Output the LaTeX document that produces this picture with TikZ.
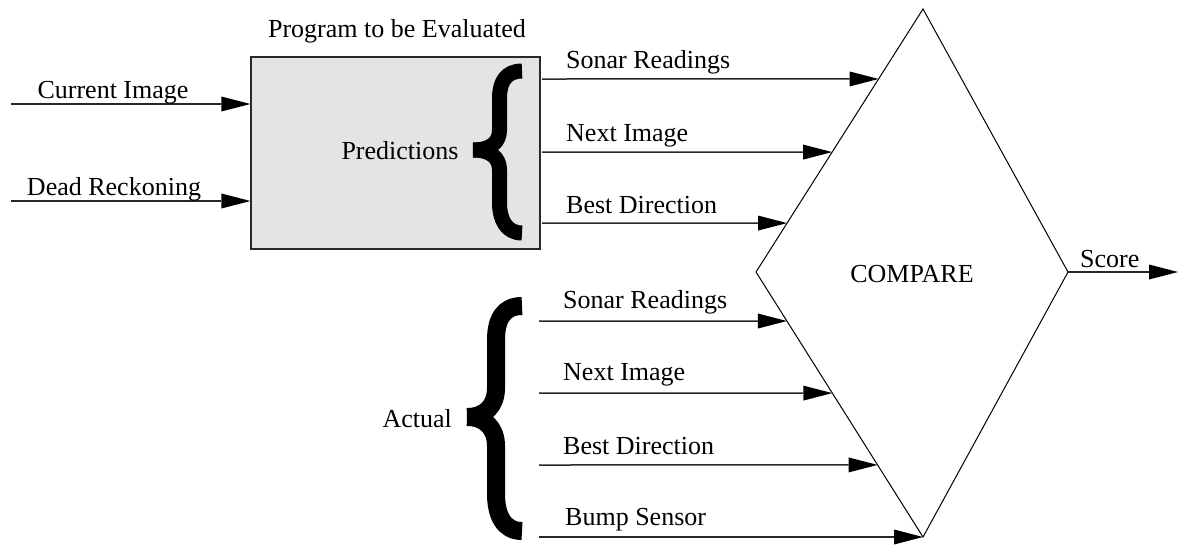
\documentclass[tikz,border=0pt]{standalone}
\usepackage{fontspec}
\setmainfont{Liberation Serif}
\usetikzlibrary{arrows.meta,positioning,calc}
\definecolor{BoxFill}{RGB}{228,228,228}
\definecolor{WireGray}{RGB}{40,40,40}

\begin{document}
\begin{tikzpicture}[
  x=1pt, y=-1pt,
  font=\fontsize{26}{30}\selectfont,
  >={Triangle[length=29pt,width=15pt,fill=black,line width=0pt]},
  wire/.style={->, draw=WireGray, line width=1.5pt},
  sig/.style={anchor=base west, inner sep=0pt},
  txt/.style={anchor=base, inner sep=0pt},
  bracestroke/.style={draw=black, line cap=butt, line join=round},
  progbox/.style={rectangle, draw=WireGray, fill=BoxFill, line width=1.2pt, minimum width=289pt, minimum height=192pt, inner sep=0pt},
]
\useasboundingbox (0,0) rectangle (1178,544);

% program box
\node[progbox] (prog) at (395.5,153) {};
\node[txt] (title) at (397,37) {Program to be Evaluated};
\node[txt] (pred) at (400,159) {Predictions};
% brace of the predictions
\draw[bracestroke, line width=15pt] (522,71) .. controls (506,71) and (499.5,82) .. (499.5,98) -- (499.5,130)
  .. controls (499.5,143) and (490,150) .. (473,150);
\draw[bracestroke, line width=15pt] (473,150) .. controls (490,150) and (499.5,157) .. (499.5,170) -- (499.5,203)
  .. controls (499.5,219) and (506,233) .. (522,233);

% inputs
\coordinate (ci) at (11,104);
\coordinate (dr) at (11,201);
\draw[wire] (ci) -- (ci -| prog.west);
\draw[wire] (dr) -- (dr -| prog.west);
\node[txt] (cilbl) at (113,98) {Current Image};
\node[txt] (drlbl) at (114,195) {Dead Reckoning};

% compare diamond
\coordinate (T) at (923,9);
\coordinate (L) at (756,272);
\coordinate (R) at (1068,272);
\coordinate (B) at (923,537);
\draw[line width=1pt] (T) -- (R) -- (B) -- (L) -- cycle;
\node[txt] (cmp) at (912,282) {COMPARE};

% predicted outputs
\coordinate (ps0) at (542,79);
\coordinate (pn0) at (542,152);
\coordinate (pb0) at (542,223);
\coordinate (ps1) at ($(L)!0.734!(T)$);
\coordinate (pn1) at ($(L)!0.456!(T)$);
\coordinate (pb1) at ($(L)!0.186!(T)$);
\draw[wire] (ps0) -- (ps1);
\draw[wire] (pn0) -- (pn1);
\draw[wire] (pb0) -- (pb1);
\node[sig] (pslbl) at (566,68) {Sonar Readings};
\node[sig] (pnlbl) at (566,141) {Next Image};
\node[sig] (pblbl) at (566,213) {Best Direction};

% actual values
\draw[bracestroke, line width=18pt] (522,306) .. controls (503,306) and (496,320) .. (496,340) -- (496,388)
  .. controls (496,406) and (485,417) .. (467,417);
\draw[bracestroke, line width=18pt] (467,417) .. controls (485,417) and (496,428) .. (496,446) -- (496,494)
  .. controls (496,514) and (503,531) .. (522,531);
\node[anchor=base east, inner sep=0pt] (act) at (452,427) {Actual};
\coordinate (as0) at (539,321);
\coordinate (an0) at (539,393);
\coordinate (ab0) at (539,465);
\coordinate (au0) at (539,537);
\coordinate (as1) at ($(L)!0.185!(B)$);
\coordinate (an1) at ($(L)!0.457!(B)$);
\coordinate (ab1) at ($(L)!0.728!(B)$);
\draw[wire] (as0) -- (as1);
\draw[wire] (an0) -- (an1);
\draw[wire] (ab0) -- (ab1);
\draw[wire] (au0) -- (B);
\node[sig] (aslbl) at (563,308) {Sonar Readings};
\node[sig] (anlbl) at (563,380) {Next Image};
\node[sig] (ablbl) at (563,454) {Best Direction};
\node[sig] (aulbl) at (565,525) {Bump Sensor};

% score
\coordinate (sc) at (1178,272);
\draw[wire] (R) -- (sc);
\node[sig] (sclbl) at (1080,267) {Score};
\end{tikzpicture}
\end{document}
